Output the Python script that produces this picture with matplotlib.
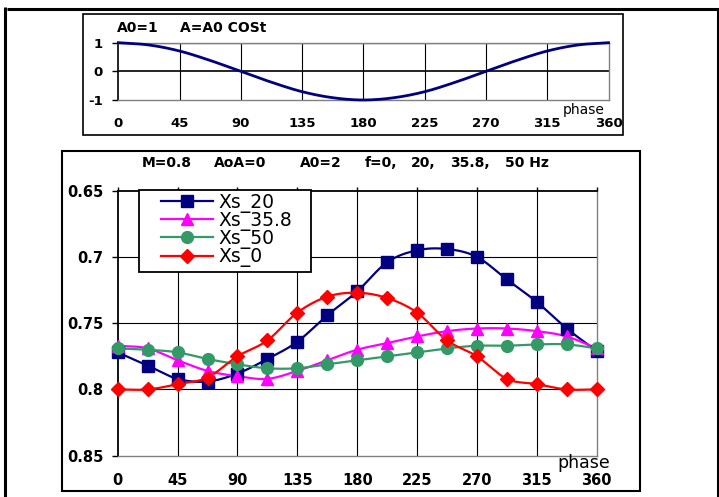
import numpy as np
import matplotlib
matplotlib.use("Agg")
import matplotlib.pyplot as plt
from matplotlib.lines import Line2D
from matplotlib.patches import Rectangle

# ---------------- data ----------------
phase = [0, 22.5, 45, 67.5, 90, 112.5, 135, 157.5, 180, 202.5, 225, 247.5,
         270, 292.5, 315, 337.5, 360]
xticks = [0, 45, 90, 135, 180, 225, 270, 315, 360]

# top chart: A = A0 cos t
amp = [1.0, 0.92, 0.71, 0.38, 0.0, -0.38, -0.71, -0.92, -1.0, -0.92, -0.71,
       -0.38, 0.0, 0.38, 0.71, 0.92, 1.0]
top_yticks = [1, 0, -1]

xs_20 = [0.772, 0.782, 0.792, 0.794, 0.788, 0.777, 0.764, 0.744, 0.726, 0.704,
         0.695, 0.694, 0.700, 0.717, 0.734, 0.754, 0.771]
xs_358 = [0.767, 0.769, 0.778, 0.786, 0.790, 0.792, 0.786, 0.778, 0.770, 0.765,
          0.760, 0.756, 0.754, 0.754, 0.756, 0.760, 0.769]
xs_50 = [0.769, 0.770, 0.772, 0.777, 0.781, 0.784, 0.784, 0.781, 0.778, 0.775,
         0.772, 0.769, 0.767, 0.767, 0.766, 0.766, 0.769]
xs_0 = [0.800, 0.800, 0.796, 0.791, 0.775, 0.763, 0.742, 0.730, 0.727, 0.731,
        0.742, 0.763, 0.775, 0.792, 0.796, 0.800, 0.800]
series_labels = ["Xs_20", "Xs_35.8", "Xs_50", "Xs_0"]
main_yticks = [0.65, 0.7, 0.75, 0.8, 0.85]
main_ylabels = ["0.65", "0.7", "0.75", "0.8", "0.85"]

top_title = ["A0=1", "A=A0 COSt"]
main_title = ["M=0.8", "AoA=0", "A0=2", "f=0,", "20,", "35.8,", "50 Hz"]

# ---------------- helpers ----------------
W, H = 719, 497


def smooth(x, y, n=16):
    """Catmull-Rom curve through the points (for drawing smoothed lines)."""
    x = np.asarray(x, float)
    y = np.asarray(y, float)
    P = np.column_stack([x, y])
    P = np.vstack([2 * P[0] - P[1], P, 2 * P[-1] - P[-2]])
    out = []
    t = np.linspace(0, 1, n, endpoint=False)[:, None]
    for i in range(1, len(P) - 2):
        p0, p1, p2, p3 = P[i - 1], P[i], P[i + 1], P[i + 2]
        seg = 0.5 * (2 * p1 + (-p0 + p2) * t + (2 * p0 - 5 * p1 + 4 * p2 - p3) * t ** 2
                     + (-p0 + 3 * p1 - 3 * p2 + p3) * t ** 3)
        out.append(seg)
    out.append(P[-2][None, :])
    out = np.vstack(out)
    return out[:, 0], out[:, 1]


def fx(px):
    return px / W


def fy(py):
    return 1 - py / H


def fig_line(fig, x0, y0, x1, y1, lw, color="black"):
    fig.add_artist(Line2D([fx(x0), fx(x1)], [fy(y0), fy(y1)],
                          transform=fig.transFigure, color=color, lw=lw,
                          solid_capstyle="butt"))


def fig_rect(fig, x0, y0, x1, y1, lw, color="black", face="none", z=1):
    fig.add_artist(Rectangle((fx(x0), fy(y1)), fx(x1) - fx(x0), fy(y0) - fy(y1),
                             transform=fig.transFigure, fill=(face != "none"),
                             facecolor=face, edgecolor=color, lw=lw, zorder=z))


fig = plt.figure(figsize=(W / 100, H / 100), dpi=100)
fig.patch.set_facecolor("white")

# outer frame lines
fig_line(fig, 4.5, 7, 4.5, 497, 2.2)
fig_line(fig, 7, 8.5, 719, 8.5, 2.2)
fig_line(fig, 717.5, 8.5, 717.5, 497, 2.2)

# chart boxes
fig_rect(fig, 82.7, 14, 623.3, 135, 1.2)
fig_rect(fig, 62.3, 150.7, 640, 491, 1.5)

# ---------------- top chart ----------------
L1, R1, T1, B1 = 118.3, 608.5, 42.7, 100
ax1 = fig.add_axes([fx(L1), fy(B1), fx(R1) - fx(L1), fy(T1) - fy(B1)])
ax1.set_xlim(0, 360)
ax1.set_ylim(-1, 1)
for v in xticks[1:-1]:
    ax1.axvline(v, color="black", lw=0.8, zorder=1)
ax1.axhline(1, color="#808080", lw=1.0, zorder=1)
ax1.axhline(0, color="black", lw=1.2, zorder=1)
sx, sy = smooth(phase, amp)
ax1.plot(sx, sy, color="#000080", lw=2.0, zorder=3, clip_on=False)
for s in ["top", "right", "bottom"]:
    ax1.spines[s].set_color("#808080")
    ax1.spines[s].set_linewidth(1.0)
ax1.spines["left"].set_color("black")
ax1.spines["left"].set_linewidth(1.2)
ax1.set_xticks(xticks)
ax1.set_xticklabels([str(v) for v in xticks], fontsize=9.5, fontweight="bold")
ax1.set_yticks(top_yticks)
ax1.set_yticklabels([str(v) for v in top_yticks], fontsize=9.5, fontweight="bold")
ax1.tick_params(axis="x", length=0, pad=12)
ax1.tick_params(axis="y", length=4.3, width=1.0, pad=7, direction="out")
fig.text(fx(584), fy(110), "phase", ha="center", va="center", fontsize=10)
for txt, xpos in zip(top_title, [117, 180]):
    fig.text(fx(xpos), fy(28.5), txt, ha="left", va="center",
             fontsize=10, fontweight="bold")

# ---------------- main chart ----------------
L2, R2, T2, B2 = 117.7, 596.7, 190.7, 455.7
ax = fig.add_axes([fx(L2), fy(B2), fx(R2) - fx(L2), fy(T2) - fy(B2)])
ax.set_xlim(0, 360)
ax.set_ylim(0.85, 0.65)
for v in xticks[1:-1]:
    ax.axvline(v, color="black", lw=0.8, zorder=1)
for v in main_yticks[1:-1]:
    ax.axhline(v, color="black", lw=0.8, zorder=1)

styles = [
    dict(color="#000080", marker="s", ms=8),
    dict(color="#FF00FF", marker="^", ms=8.5),
    dict(color="#339966", marker="o", ms=8.5),
    dict(color="#FF0000", marker="D", ms=7),
]
handles = []
for data, lab, st in zip([xs_20, xs_358, xs_50, xs_0], series_labels, styles):
    sx, sy = smooth(phase, data)
    ax.plot(sx, sy, color=st["color"], lw=1.6, zorder=3, clip_on=False)
    ax.plot(phase, data, linestyle="none", marker=st["marker"], ms=st["ms"],
            color=st["color"], markeredgecolor=st["color"], zorder=4, clip_on=False)
    handles.append(Line2D([], [], color=st["color"], lw=1.6, marker=st["marker"],
                          ms=st["ms"], markeredgecolor=st["color"], label=lab))

ax.spines["top"].set_color("black")
ax.spines["top"].set_linewidth(1.3)
ax.spines["left"].set_color("black")
ax.spines["left"].set_linewidth(1.3)
ax.spines["bottom"].set_color("#808080")
ax.spines["right"].set_color("#808080")
ax.spines["bottom"].set_linewidth(1.0)
ax.spines["right"].set_linewidth(1.0)

ax.set_xticks(xticks)
ax.set_xticklabels([str(v) for v in xticks], fontsize=10.5, fontweight="bold")
ax.set_yticks(main_yticks)
ax.set_yticklabels(main_ylabels, fontsize=10.5, fontweight="bold")
ax.tick_params(axis="x", top=True, bottom=False, labeltop=False, labelbottom=True,
               length=3, width=1.0, pad=9.5, direction="out")
ax.tick_params(axis="y", length=4.3, width=1.0, pad=6, direction="out")

fig.text(fx(584), fy(463), "phase", ha="center", va="center", fontsize=12.5)
for txt, xpos in zip(main_title, [141.7, 214, 300, 365, 410.7, 450, 505]):
    fig.text(fx(xpos), fy(163), txt, ha="left", va="center",
             fontsize=10, fontweight="bold")

# legend frame + legend
fig_rect(fig, 139.3, 190, 310.7, 271.7, 1.3, face="white", z=5)
leg = fig.legend(handles=handles, loc="upper left",
                 bbox_to_anchor=(fx(157), fy(189)), bbox_transform=fig.transFigure,
                 frameon=False, fontsize=13.5, handlelength=2.8, handletextpad=0.3,
                 labelspacing=-0.1, borderpad=0.2, borderaxespad=0)
leg.set_zorder(6)

fig.savefig("out.png", dpi=100)
